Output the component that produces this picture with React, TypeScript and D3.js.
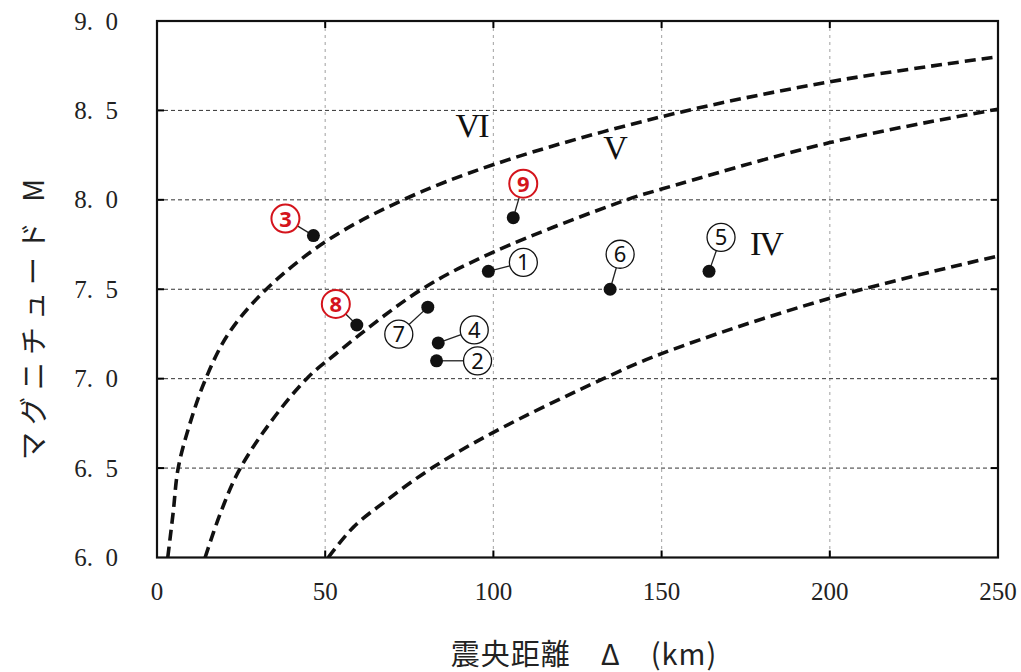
import React from "react";
import * as d3 from "d3";

// Epicentral distance Δ (km) vs magnitude M for each event
const eventIds = ["1", "2", "3", "4", "5", "6", "7", "8", "9"];
const eventDelta = [98.5, 83.1, 46.5, 83.6, 164.1, 134.7, 80.5, 59.4, 105.9];
const eventMag = [7.6, 7.1, 7.8, 7.2, 7.6, 7.5, 7.4, 7.3, 7.9];
const highlighted = ["3", "8", "9"];

// Intensity boundary curves (Δ, M)
const curveVI: [number, number][] = [
  [3.2, 6.0], [4.8, 6.25], [6.3, 6.5], [9.8, 6.75], [14.5, 7.0], [21.2, 7.25],
  [32.5, 7.5], [50.4, 7.77], [73.2, 8.0], [100.5, 8.2], [150, 8.465],
  [200, 8.66], [250, 8.8],
];
const curveV: [number, number][] = [
  [14.3, 6.0], [18.7, 6.24], [24.2, 6.48], [33.1, 6.74], [44.5, 7.0],
  [52.9, 7.135], [78.7, 7.5], [100.3, 7.71], [139.6, 8.0], [150, 8.06],
  [200, 8.32], [250, 8.507],
];
const curveIV: [number, number][] = [
  [50.9, 6.0], [58.4, 6.17], [68.3, 6.32], [81.7, 6.5], [100, 6.7],
  [132.7, 7.0], [150, 7.14], [200, 7.45], [250, 7.686],
];
const curveNames = ["VI", "V", "IV"];
const curveLabelPos: [number, number][] = [
  [93.5, 8.35], [136, 8.23], [181, 7.69],
];

const xTicks = [0, 50, 100, 150, 200, 250];
const yTicks = [6.0, 6.5, 7.0, 7.5, 8.0, 8.5, 9.0];

// label placement relative to each dot (px)
const labelOffset: Record<string, [number, number]> = {
  "1": [35, -9], "2": [41, 0], "3": [-28, -17], "4": [36, -13], "5": [12, -34],
  "6": [10, -35], "7": [-29, 27], "8": [-21, -21], "9": [10, -34],
};

const W = 1021, H = 672;
const L = 157, R = 998, T = 21, B = 557.5;

export default function App() {
  const x = d3.scaleLinear().domain([0, 250]).range([L, R]);
  const y = d3.scaleLinear().domain([6, 9]).range([B, T]);
  const line = d3
    .line<[number, number]>()
    .x((d) => x(d[0]))
    .y((d) => y(d[1]))
    .curve(d3.curveCatmullRom.alpha(0.5));
  const serif = "Liberation Serif, Times New Roman, DejaVu Serif, serif";
  const cjk = "Noto Sans CJK JP, sans-serif";
  const red = "#d4141c";

  return (
    <svg
      width={W}
      height={H}
      style={{ position: "absolute", left: 0, top: 0, background: "#fff" }}
    >
      <defs>
        <clipPath id="plot">
          <rect x={L} y={T} width={R - L} height={B - T} />
        </clipPath>
      </defs>

      {/* vertical grid */}
      {xTicks.slice(1, -1).map((t) => (
        <line key={"vx" + t} x1={x(t)} x2={x(t)} y1={T} y2={B}
          stroke="#b0b0b0" strokeWidth={1.2} strokeDasharray="3 4" />
      ))}
      {/* horizontal grid */}
      {yTicks.slice(1, -1).map((t) => (
        <line key={"hy" + t} x1={L} x2={R} y1={y(t)} y2={y(t)}
          stroke="#333" strokeWidth={1} strokeDasharray="4 3" />
      ))}

      {/* ticks */}
      {xTicks.slice(1, -1).map((t) => (
        <g key={"tx" + t}>
          <line x1={x(t)} x2={x(t)} y1={T} y2={T + 7} stroke="#000" strokeWidth={2} />
          <line x1={x(t)} x2={x(t)} y1={B} y2={B - 7} stroke="#000" strokeWidth={2} />
        </g>
      ))}
      {yTicks.slice(1, -1).map((t) => (
        <g key={"ty" + t}>
          <line x1={L} x2={L + 7} y1={y(t)} y2={y(t)} stroke="#000" strokeWidth={2} />
          <line x1={R} x2={R - 7} y1={y(t)} y2={y(t)} stroke="#000" strokeWidth={2} />
        </g>
      ))}

      {/* intensity boundary curves */}
      <g clipPath="url(#plot)">
        {[curveVI, curveV, curveIV].map((c, i) => (
          <path key={"c" + i} d={line(c) || ""} fill="none" stroke="#111"
            strokeWidth={3.6} strokeDasharray="11 6" />
        ))}
      </g>

      {/* frame */}
      <rect x={L} y={T} width={R - L} height={B - T} fill="none" stroke="#111" strokeWidth={2.2} />

      {/* curve labels */}
      {curveNames.map((n, i) => (
        <text key={n} x={x(curveLabelPos[i][0])} y={y(curveLabelPos[i][1])}
          textAnchor="middle" fontFamily={serif} fontSize={34} fill="#111"
          letterSpacing={-2}>
          {n}
        </text>
      ))}

      {/* events */}
      {eventIds.map((id, i) => {
        const cx = x(eventDelta[i]);
        const cy = y(eventMag[i]);
        const [dx, dy] = labelOffset[id];
        const lx = cx + dx, ly = cy + dy;
        const isRed = highlighted.includes(id);
        const col = isRed ? red : "#111";
        const r = 14;
        const dist = Math.hypot(dx, dy);
        const ex = lx - (dx / dist) * r;
        const ey = ly - (dy / dist) * r;
        return (
          <g key={"e" + id}>
            <line x1={cx} y1={cy} x2={ex} y2={ey} stroke="#222" strokeWidth={1.3} />
            <circle cx={cx} cy={cy} r={6.5} fill="#111" />
            <circle cx={lx} cy={ly} r={r} fill="#fff" stroke={col}
              strokeWidth={isRed ? 2 : 1.3} />
            <text x={lx} y={ly + 8} textAnchor="middle" fontFamily="Noto Sans, sans-serif"
              fontSize={22} fontWeight={isRed ? 700 : 400} fill={col}>
              {id}
            </text>
          </g>
        );
      })}

      {/* axis tick labels */}
      {xTicks.map((t) => (
        <text key={"xl" + t} x={x(t)} y={600} textAnchor="middle"
          fontFamily={serif} fontSize={25} fill="#222">
          {t}
        </text>
      ))}
      {yTicks.map((t) => (
        <text key={"yl" + t} x={118} y={y(t) + 8.5} textAnchor="end"
          fontFamily={serif} fontSize={25} fill="#222" xmlSpace="preserve">
          {t.toFixed(1).replace(".", ".  ")}
        </text>
      ))}

      {/* axis titles */}
      <text x={584} y={665} textAnchor="middle" fontFamily={cjk} fontSize={29} fill="#222"
        xmlSpace="preserve" letterSpacing={1}>
        {"震央距離　Δ　(km)"}
      </text>
      <text transform={`translate(44, 316) rotate(-90)`} textAnchor="middle"
        fontFamily={cjk} fontSize={28} fill="#222" letterSpacing={7} xmlSpace="preserve">
        {"マグニチュード M"}
      </text>
    </svg>
  );
}
